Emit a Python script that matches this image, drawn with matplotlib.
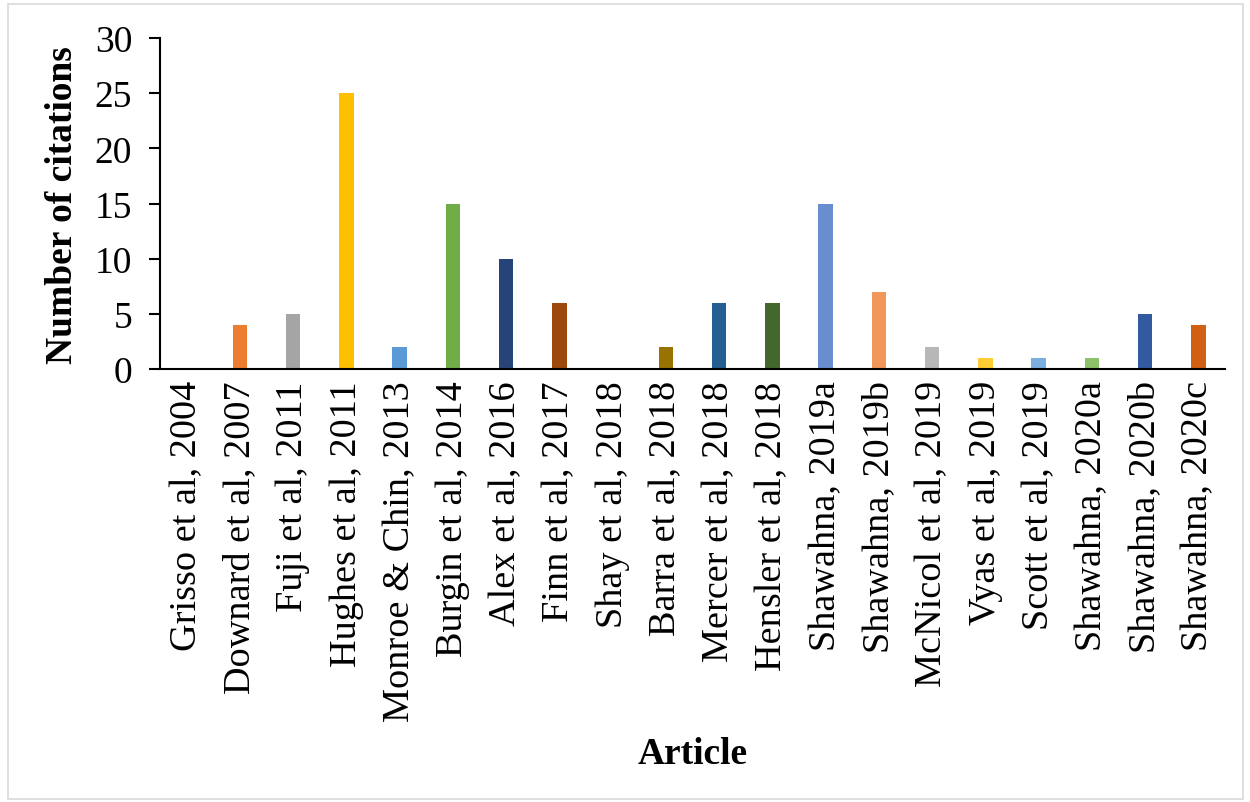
import matplotlib
matplotlib.use("Agg")
import matplotlib.pyplot as plt
from matplotlib.patches import Rectangle

articles = [
    "Grisso et al, 2004", "Downard et al, 2007", "Fuji et al, 2011",
    "Hughes et al, 2011", "Monroe & Chin, 2013", "Burgin et al, 2014",
    "Alex et al, 2016", "Finn et al, 2017", "Shay et al, 2018",
    "Barra et al, 2018", "Mercer et al, 2018", "Hensler et al, 2018",
    "Shawahna, 2019a", "Shawahna, 2019b", "McNicol et al, 2019",
    "Vyas et al, 2019", "Scott et al, 2019", "Shawahna, 2020a",
    "Shawahna, 2020b", "Shawahna, 2020c",
]
citations = [0, 4, 5, 25, 2, 15, 10, 6, 0, 2, 6, 6, 15, 7, 2, 1, 1, 1, 5, 4]
bar_colors = [
    "#4472C4", "#ED7D31", "#A5A5A5", "#FFC000", "#5B9BD5", "#70AD47",
    "#264478", "#9E480E", "#636363", "#997300", "#255E91", "#43682B",
    "#698ED0", "#F1975A", "#B7B7B7", "#FFCD33", "#7CAFDD", "#8CC168",
    "#335AA1", "#D26012",
]
y_ticks = [0, 5, 10, 15, 20, 25, 30]

plt.rcParams["font.family"] = ["Liberation Serif", "DejaVu Serif"]

fig = plt.figure(figsize=(12.5, 8.03), dpi=100)
fig.patches.append(Rectangle((0.006, 0.004), 0.988, 0.99, transform=fig.transFigure,
                             fill=False, edgecolor="#D9D9D9", linewidth=1.2))

ax = fig.add_axes([0.128, 0.5392, 0.852, 0.4122])
x = range(len(articles))
ax.bar(x, citations, width=0.27, color=bar_colors, zorder=2)

ax.set_xlim(-0.5, len(articles) - 0.5)
ax.set_ylim(0, 30)
ax.set_yticks(y_ticks)
ax.set_yticklabels([str(v) for v in y_ticks], fontsize=27)
ax.set_xticks(list(x))
ax.set_xticklabels(articles, rotation=90, fontsize=27.5)
ax.tick_params(axis="x", length=0, pad=8)
ax.tick_params(axis="y", length=8, width=1.5, direction="out", pad=12)

for side in ("top", "right"):
    ax.spines[side].set_visible(False)
ax.spines["left"].set_linewidth(1.5)
ax.spines["bottom"].set_linewidth(1.5)

fig.text(0.05, 0.745, "Number of citations", fontsize=27, fontweight="bold",
         rotation=90, ha="center", va="center")
fig.text(0.554, 0.06, "Article", fontsize=27, fontweight="bold",
         ha="center", va="center")

fig.savefig("out.png", dpi=100)
